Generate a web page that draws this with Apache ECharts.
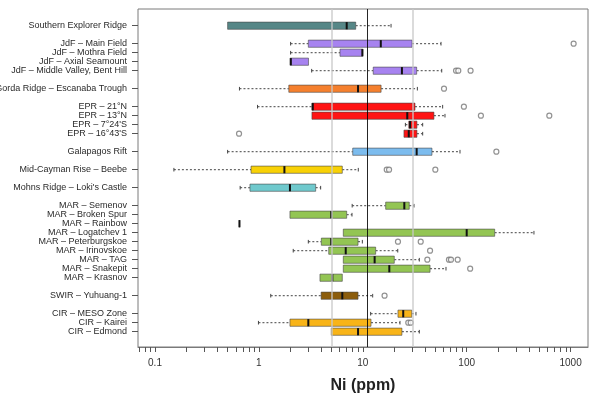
<!DOCTYPE html>
<html>
<head>
<meta charset="utf-8">
<script src="https://cdn.jsdelivr.net/npm/echarts@6/dist/echarts.min.js"></script>
<style>
  html, body { margin: 0; padding: 0; background: #fff; }
  #chart { width: 598px; height: 401px; }
</style>
</head>
<body>
<div id="chart"></div>
<script>
// Vent fluid Ni concentrations by hydrothermal site (ppm)
const sites = [
  'Southern Explorer Ridge',
  'JdF – Main Field', 'JdF – Mothra Field', 'JdF – Axial Seamount', 'JdF – Middle Valley, Bent Hill',
  'Gorda Ridge – Escanaba Trough',
  'EPR – 21°N', 'EPR – 13°N', "EPR – 7°24'S", "EPR – 16°43'S",
  'Galapagos Rift',
  'Mid-Cayman Rise – Beebe',
  "Mohns Ridge – Loki's Castle",
  'MAR – Semenov', 'MAR – Broken Spur', 'MAR – Rainbow', 'MAR – Logatchev 1', 'MAR – Peterburgskoe',
  'MAR – Irinovskoe', 'MAR – TAG', 'MAR – Snakepit', 'MAR – Krasnov',
  'SWIR – Yuhuang-1',
  'CIR – MESO Zone', 'CIR – Kairei', 'CIR – Edmond'
];
const regions = [
  'SER',
  'JdF', 'JdF', 'JdF', 'JdF',
  'Gorda',
  'EPR', 'EPR', 'EPR', 'EPR',
  'GAR',
  'MCR',
  'Mohns',
  'MAR', 'MAR', 'MAR', 'MAR', 'MAR', 'MAR', 'MAR', 'MAR', 'MAR',
  'SWIR',
  'CIR', 'CIR', 'CIR'
];
// five-number summaries per site
const whiskerLow    = [0.50, 2.02, 2.02, 2.00, 3.22, 0.65, 0.97, 3.24, 25.7, 24.9, 0.50, 0.152, 0.66, 7.9, 1.99, 0.65, 6.49, 2.99, 2.14, 6.49, 6.49, 3.87, 1.30, 11.9, 0.99, 4.97];
const lowerQuartile = [0.50, 2.99, 6.03, 2.00, 12.6, 1.94, 3.24, 3.24, 27.7, 24.9, 8.0, 0.84, 0.82, 16.6, 1.99, 0.65, 6.49, 3.99, 4.70, 6.49, 6.49, 3.87, 3.97, 21.8, 1.99, 4.97];
const medians       = [7.0, 14.9, 9.9, 2.03, 23.8, 9.0, 3.3, 26.8, 28.5, 27.7, 33.0, 1.76, 1.99, 25.1, 4.97, 0.65, 100, 4.97, 6.85, 13.0, 18.0, 5.09, 6.35, 24.5, 2.99, 9.0];
const upperQuartile = [8.55, 29.8, 10.0, 3.0, 33.0, 15.0, 31.8, 48.4, 33.2, 33.2, 46.3, 6.35, 3.52, 28.0, 7.0, 0.65, 186, 9.0, 13.3, 20.1, 44.4, 6.35, 9.0, 29.6, 12.0, 23.8];
const whiskerHigh   = [18.7, 56.6, 10.0, 3.0, 57.5, 33.5, 58.7, 61.8, 37.7, 37.7, 86.2, 9.05, 3.93, 31.1, 7.87, 0.65, 444, 9.9, 21.7, 35.0, 63.2, 6.35, 12.45, 32.5, 22.8, 35.0];
// outlying samples: [site, Ni ppm]
const outliers = [
  ['JdF – Main Field', 1070],
  ['JdF – Middle Valley, Bent Hill', 79], ['JdF – Middle Valley, Bent Hill', 83], ['JdF – Middle Valley, Bent Hill', 109],
  ['Gorda Ridge – Escanaba Trough', 60.5],
  ['EPR – 21°N', 94],
  ['EPR – 13°N', 137], ['EPR – 13°N', 624],
  ["EPR – 16°43'S", 0.644],
  ['Galapagos Rift', 193],
  ['Mid-Cayman Rise – Beebe', 17.0], ['Mid-Cayman Rise – Beebe', 17.9], ['Mid-Cayman Rise – Beebe', 49.9],
  ['MAR – Peterburgskoe', 21.8], ['MAR – Peterburgskoe', 36.1],
  ['MAR – Irinovskoe', 44.4],
  ['MAR – TAG', 41.8], ['MAR – TAG', 67.5], ['MAR – TAG', 70.6], ['MAR – TAG', 81.9],
  ['MAR – Snakepit', 108],
  ['SWIR – Yuhuang-1', 16.2],
  ['CIR – Kairei', 27.4], ['CIR – Kairei', 28.9]
];
// reference levels (ppm)
const referenceGrey = [5, 30];
const referenceBlack = [11];
const tickLabels = [0.1, 1, 10, 100, 1000];

const regionColors = {
  SER: '#568787', JdF: '#a783f0', Gorda: '#f5802e', EPR: '#ff1414', GAR: '#7cbcee',
  MCR: '#f8d106', Mohns: '#6fc9cd', MAR: '#93c553', SWIR: '#8c5d0c', CIR: '#f8b418'
};

// category slots: a blank slot separates consecutive regions
const slots = [];
const slotOfSite = {};
sites.forEach((s, i) => {
  if (i > 0 && regions[i] !== regions[i - 1]) slots.push('');
  slotOfSite[s] = slots.length;
  slots.push(s);
});

const boxData = sites.map((s, i) => ({
  value: [slotOfSite[s], whiskerLow[i], lowerQuartile[i], medians[i], upperQuartile[i], whiskerHigh[i]],
  region: regions[i]
}));
const outlierData = outliers.map(o => [o[1], slotOfSite[o[0]]]);

// minor/major tick positions along the log axis
const axisMin = 0.0686, axisMax = 1471;
const tickValues = [];
for (let e = -2; e <= 3; e++) {
  for (let k = 1; k <= 9; k++) {
    const v = +(k * Math.pow(10, e)).toPrecision(3);
    if (v >= axisMin && v <= axisMax) tickValues.push(v);
  }
}

function renderBox(params, api) {
  const cat = api.value(0);
  const lo = api.coord([api.value(1), cat]);
  const q1 = api.coord([api.value(2), cat]);
  const md = api.coord([api.value(3), cat]);
  const q3 = api.coord([api.value(4), cat]);
  const hi = api.coord([api.value(5), cat]);
  const band = api.size([0, 1])[1];
  const h = band * 0.8;
  const cy = md[1];
  const color = regionColors[boxData[params.dataIndex].region];
  const whisker = { stroke: '#444', lineWidth: 1, lineDash: [2, 2] };
  const staple = { stroke: '#444', lineWidth: 1 };
  const sh = band * 0.2;
  const children = [];
  if (lo[0] < q1[0] - 0.5) {
    children.push({ type: 'line', shape: { x1: lo[0], y1: cy, x2: q1[0], y2: cy }, style: whisker });
    children.push({ type: 'line', shape: { x1: lo[0], y1: cy - sh, x2: lo[0], y2: cy + sh }, style: staple });
  }
  if (hi[0] > q3[0] + 0.5) {
    children.push({ type: 'line', shape: { x1: q3[0], y1: cy, x2: hi[0], y2: cy }, style: whisker });
    children.push({ type: 'line', shape: { x1: hi[0], y1: cy - sh, x2: hi[0], y2: cy + sh }, style: staple });
  }
  children.push({
    type: 'rect',
    shape: { x: q1[0], y: cy - h / 2, width: q3[0] - q1[0], height: h },
    style: { fill: color, stroke: 'rgba(70,70,70,0.75)', lineWidth: 0.8 }
  });
  children.push({
    type: 'line',
    shape: { x1: md[0], y1: cy - h / 2, x2: md[0], y2: cy + h / 2 },
    style: { stroke: '#111', lineWidth: 2 }
  });
  return { type: 'group', children };
}

const chart = echarts.init(document.getElementById('chart'), null, { renderer: 'canvas' });
const textFont = 'Liberation Sans, Arial, Helvetica, sans-serif';

chart.setOption({
  animation: false,
  backgroundColor: '#fff',
  grid: [
    { left: 138, right: 10, top: 9, bottom: 54, outerBoundsMode: 'none', containLabel: false,
      show: true, borderColor: '#7a7a7a', borderWidth: 1, backgroundColor: 'transparent' },
    { left: 138, right: 10, top: 21.2, bottom: 64.8, outerBoundsMode: 'none', containLabel: false, show: false }
  ],
  xAxis: [
    {
      type: 'log', gridIndex: 0, min: axisMin, max: axisMax,
      axisLine: { show: true, lineStyle: { color: '#7a7a7a', width: 1 } },
      axisTick: { show: true, customValues: tickValues, length: 5, lineStyle: { color: '#555', width: 1 } },
      axisLabel: {
        show: true, customValues: tickLabels, margin: 11,
        fontFamily: textFont, fontSize: 10, color: '#333',
        formatter: v => {
          const t = tickLabels.find(t => Math.abs(Math.log10(t) - Math.log10(v)) < 0.01);
          return t === undefined ? '' : String(t);
        }
      },
      splitLine: { show: false },
      minorTick: { show: false },
      name: 'Ni (ppm)', nameLocation: 'middle', nameGap: 31,
      nameTextStyle: { fontFamily: textFont, fontSize: 16, fontWeight: 'bold', color: '#222' }
    },
    {
      type: 'log', gridIndex: 1, min: axisMin, max: axisMax, show: false,
      splitLine: { show: false }
    }
  ],
  yAxis: [
    { type: 'value', gridIndex: 0, show: false, min: 0, max: 1, splitLine: { show: false } },
    {
      type: 'category', gridIndex: 1, data: slots, inverse: true,
      axisLine: { show: false },
      axisTick: {
        show: true, alignWithLabel: true, length: 6,
        interval: (idx, val) => val !== '',
        lineStyle: { color: '#555', width: 1 }
      },
      axisLabel: {
        interval: 0, margin: 11,
        fontFamily: textFont, fontSize: 9, color: '#2a2a2a'
      },
      splitLine: { show: false }
    }
  ],
  series: [
    {
      type: 'custom', name: 'Ni', xAxisIndex: 1, yAxisIndex: 1, z: 2,
      renderItem: renderBox,
      encode: { x: [1, 2, 3, 4, 5], y: 0 },
      data: boxData
    },
    {
      type: 'scatter', name: 'outliers', xAxisIndex: 1, yAxisIndex: 1, z: 3,
      symbol: 'circle', symbolSize: 5,
      itemStyle: { color: '#fff', borderColor: '#777', borderWidth: 1.2 },
      data: outlierData
    },
    {
      type: 'line', name: 'reference', xAxisIndex: 0, yAxisIndex: 0, z: 10,
      data: [],
      markLine: {
        silent: true, symbol: 'none', label: { show: false },
        data: [
          ...referenceGrey.map(v => ({ xAxis: v, lineStyle: { color: 'rgba(200,200,200,0.65)', width: 2, type: 'solid' } })),
          ...referenceBlack.map(v => ({ xAxis: v, lineStyle: { color: 'rgba(0,0,0,0.85)', width: 1, type: 'solid' } }))
        ]
      }
    }
  ]
});
</script>
</body>
</html>
